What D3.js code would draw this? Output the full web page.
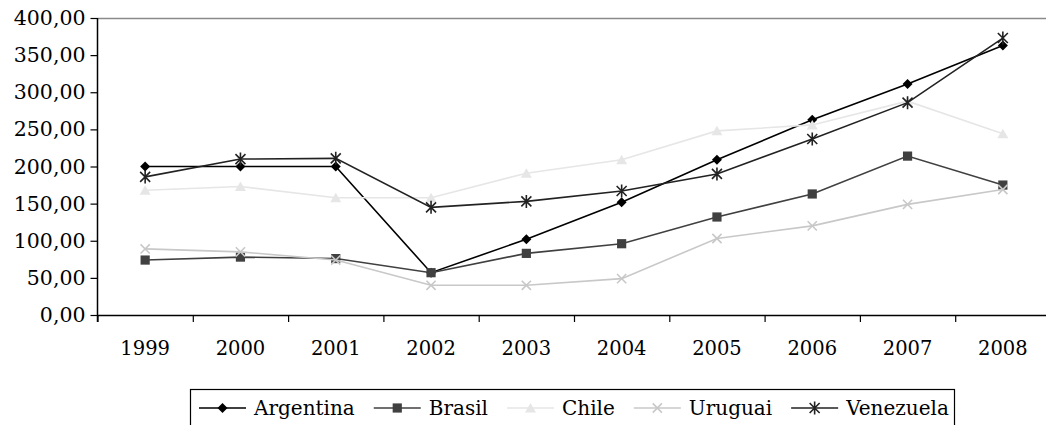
<!DOCTYPE html>
<html>
<head>
<meta charset="utf-8">
<script src="https://cdn.jsdelivr.net/npm/d3@7"></script>
<style>
  html, body { margin: 0; padding: 0; background: #fff; }
  svg { display: block; }
  text { font-family: "DejaVu Serif", "Liberation Serif", serif; fill: #000; }
</style>
</head>
<body>
<svg id="chart" width="1046" height="425"></svg>
<script>
const years = ["1999","2000","2001","2002","2003","2004","2005","2006","2007","2008"];
const argentina = [200, 200, 200, 57, 102, 152, 209, 263, 311, 363];
const brasil    = [74, 78, 76, 57, 83, 96, 132, 163, 214, 175];
const chile     = [168, 173, 158, 158, 191, 209, 248, 256, 288, 244];
const uruguai   = [89, 85, 74, 40, 40, 49, 103, 120, 149, 169];
const venezuela = [186, 210, 211, 145, 153, 167, 190, 237, 286, 373];
const yTicks = [0, 50, 100, 150, 200, 250, 300, 350, 400];
const seriesNames = ["Argentina", "Brasil", "Chile", "Uruguai", "Venezuela"];

const seriesValues = [argentina, brasil, chile, uruguai, venezuela];
const styles = [
  { color: "#000000", marker: "diamond" },
  { color: "#404040", marker: "square" },
  { color: "#e6e6e6", marker: "triangle" },
  { color: "#c8c8c8", marker: "x" },
  { color: "#222222", marker: "star" }
];

const svg = d3.select("#chart");
const mLeft = 97.5, mRight = 1050.5, mTop = 18, mBottom = 315;

const x = d3.scaleBand().domain(years).range([mLeft, mRight]);
const xEdges = d3.scaleLinear().domain([0, years.length]).range([mLeft, mRight]);
const y = d3.scaleLinear().domain([0, 400]).range([mBottom, mTop]);

const locale = d3.formatLocale({ decimal: ",", thousands: ".", grouping: [3], currency: ["", ""] });
const fmt = locale.format(".2f");

// top border line
svg.append("line")
  .attr("x1", mLeft).attr("x2", mRight)
  .attr("y1", y(400) + 0.5).attr("y2", y(400) + 0.5)
  .attr("stroke", "#8a8a8a").attr("stroke-width", 1.5);

// Y axis
const yAxis = svg.append("g")
  .attr("transform", `translate(${mLeft},0)`)
  .call(d3.axisLeft(y).tickValues(yTicks).tickFormat(fmt).tickSize(7).tickSizeOuter(0).tickPadding(5));
yAxis.select(".domain").attr("stroke", "#000").attr("stroke-width", 1.5)
  .attr("d", `M0,${mTop}V${mBottom + 7}`);
yAxis.selectAll(".tick line").attr("stroke", "#000").attr("stroke-width", 1.2);
yAxis.selectAll(".tick text").attr("font-size", "20.5px").attr("font-family", "DejaVu Serif");

// X axis tick marks at band edges
const xTickAxis = svg.append("g")
  .attr("transform", `translate(0,${mBottom})`)
  .call(d3.axisBottom(xEdges).tickValues(d3.range(years.length + 1)).tickFormat("").tickSize(7).tickSizeOuter(0));
xTickAxis.select(".domain").attr("stroke", "#000").attr("stroke-width", 1.5);
xTickAxis.selectAll(".tick line").attr("stroke", "#000").attr("stroke-width", 1.2);

// X labels
const xLabelAxis = svg.append("g")
  .attr("transform", `translate(0,${mBottom})`)
  .call(d3.axisBottom(x).tickSize(0).tickPadding(26));
xLabelAxis.select(".domain").remove();
xLabelAxis.selectAll(".tick text").attr("font-size", "19.5px").attr("font-family", "DejaVu Serif");

// marker symbol types
const symbolTypes = {
  diamond: { draw(ctx, size) { const r = 5; ctx.moveTo(0, -r); ctx.lineTo(r, 0); ctx.lineTo(0, r); ctx.lineTo(-r, 0); ctx.closePath(); } },
  square: { draw(ctx, size) { const r = 4.6; ctx.moveTo(-r, -r); ctx.lineTo(r, -r); ctx.lineTo(r, r); ctx.lineTo(-r, r); ctx.closePath(); } },
  triangle: { draw(ctx, size) { ctx.moveTo(0, -5); ctx.lineTo(5.5, 4.5); ctx.lineTo(-5.5, 4.5); ctx.closePath(); } },
  x: { draw(ctx, size) { const r = 4.6; ctx.moveTo(-r, -r); ctx.lineTo(r, r); ctx.moveTo(r, -r); ctx.lineTo(-r, r); } },
  star: { draw(ctx, size) { const r = 5; ctx.moveTo(-r, -r); ctx.lineTo(r, r); ctx.moveTo(r, -r); ctx.lineTo(-r, r); ctx.moveTo(0, -r - 1.5); ctx.lineTo(0, r + 1.5); } }
};
const filled = { diamond: true, square: true, triangle: true, x: false, star: false };

function drawMarker(g, type, color) {
  const p = g.append("path").attr("d", d3.symbol().type(symbolTypes[type])());
  if (filled[type]) p.attr("fill", color).attr("stroke", "none");
  else p.attr("fill", "none").attr("stroke", color).attr("stroke-width", 1.6);
}

const line = d3.line()
  .x((d, i) => x(years[i]) + x.bandwidth() / 2)
  .y(d => y(d));

seriesValues.forEach((vals, si) => {
  const st = styles[si];
  const g = svg.append("g");
  g.append("path").datum(vals).attr("d", line)
    .attr("fill", "none").attr("stroke", st.color).attr("stroke-width", 1.6);
  vals.forEach((v, i) => {
    const mg = g.append("g").attr("transform", `translate(${x(years[i]) + x.bandwidth() / 2},${y(v)})`);
    drawMarker(mg, st.marker, st.color);
  });
});

// Legend
const legend = svg.append("g");
legend.append("rect")
  .attr("x", 190.5).attr("y", 389.5).attr("width", 764).attr("height", 50)
  .attr("fill", "#fff").attr("stroke", "#000").attr("stroke-width", 1.2);
let lx = 199;
const ly = 408;
seriesNames.forEach((name, si) => {
  const st = styles[si];
  const g = legend.append("g");
  g.append("line").attr("x1", lx).attr("x2", lx + 47).attr("y1", ly).attr("y2", ly)
    .attr("stroke", st.color).attr("stroke-width", 1.6);
  const mg = g.append("g").attr("transform", `translate(${lx + 23.5},${ly})`);
  drawMarker(mg, st.marker, st.color);
  const t = g.append("text").attr("x", lx + 55).attr("y", ly).attr("dy", "0.35em")
    .attr("font-size", "20px").text(name);
  const w = t.node().getComputedTextLength();
  lx = lx + 55 + w + 19;
});
</script>
</body>
</html>
